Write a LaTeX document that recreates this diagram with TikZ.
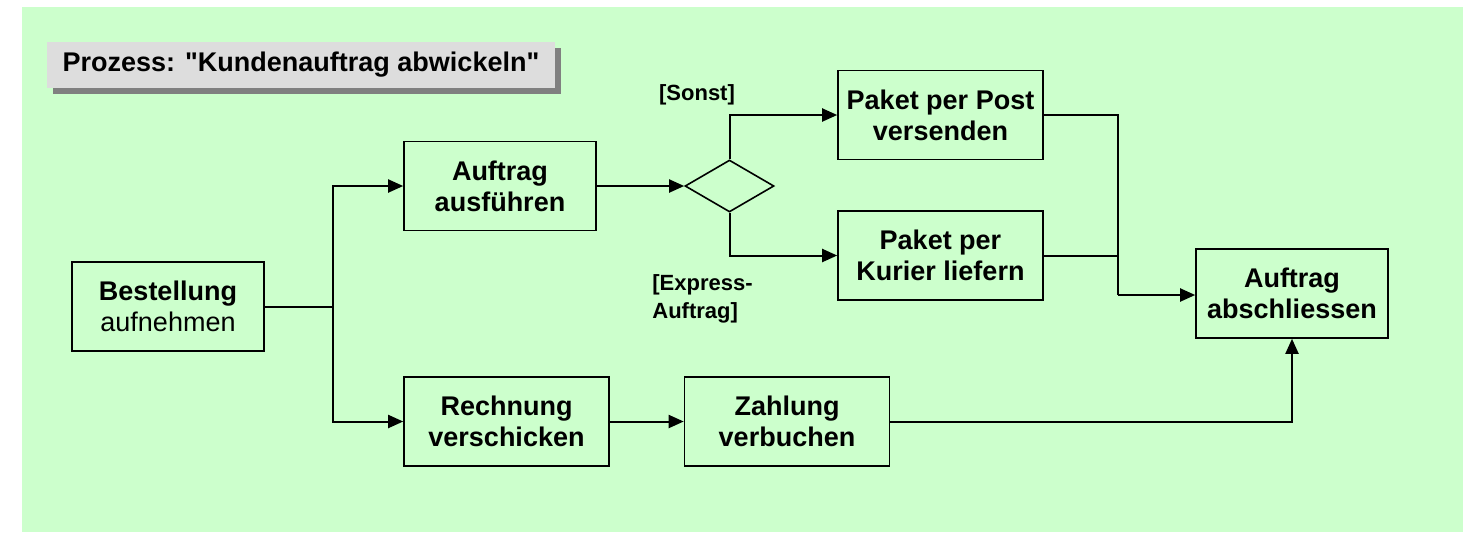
\documentclass[tikz,border=0pt]{standalone}
\usepackage{fontspec}
\setmainfont{Liberation Sans}
\newfontfamily\titelschrift{Liberation Sans}
\usetikzlibrary{arrows.meta,shapes.geometric,shadows}
\definecolor{hgruen}{HTML}{CCFFCC}
\definecolor{titelgrau}{HTML}{DDDDDD}
\definecolor{schatten}{HTML}{808080}
\tikzset{
  schritt/.style={draw, line width=0.8pt, minimum height=44.5pt, inner sep=1pt,
    align=center, font=\bfseries\fontsize{13.5}{15.5}\selectfont},
  pfeil/.style={line width=1pt, -{Triangle[length=7.5pt,width=6.5pt]}},
  linie/.style={line width=1pt},
  bedingung/.style={inner sep=0pt, align=left, font=\bfseries\fontsize{11}{14}\selectfont}
}
\begin{document}
\begin{tikzpicture}[x=0.5pt,y=-0.5pt]
\useasboundingbox (0,0) rectangle (1480,532);
% Hintergrund
\fill[hgruen] (22,7) rectangle (1463,532);

% Titel
\node[fill=titelgrau, minimum width=254pt, minimum height=23pt, inner sep=0pt,
  drop shadow={shadow xshift=3pt, shadow yshift=-3pt, fill=schatten, opacity=1},
  font=\titelschrift\bfseries\fontsize{13.5}{15.5}\selectfont] (titel) at (301,65)
  {Prozess: "Kundenauftrag abwickeln"};

% Schritte
\node[schritt, minimum width=96pt] (best) at (168,306.5)
  {Bestellung\\\mdseries aufnehmen};
\node[schritt, minimum width=96pt] (ausf) at (500,186) {Auftrag\\ausführen};
\node[draw, line width=0.8pt, diamond, inner sep=0pt, minimum width=44.5pt,
  minimum height=26pt] (raute) at (729.5,186) {};
\node[schritt, minimum width=102.5pt] (post) at (940.5,115) {Paket per Post\\versenden};
\node[schritt, minimum width=102.5pt] (kurier) at (940.5,255.5) {Paket per\\Kurier liefern};
\node[schritt, minimum width=96pt] (absch) at (1292,293.5) {Auftrag\\abschliessen};
\node[schritt, minimum width=102.5pt] (rechn) at (506.5,421.5) {Rechnung\\verschicken};
\node[schritt, minimum width=102.5pt] (zahl) at (787,421.5) {Zahlung\\verbuchen};

% Bedingungen
\node[bedingung] (sonst) at (697,95) {[Sonst]};
\node[bedingung, anchor=west] (express) at (652,299) {[Express-\\Auftrag]};

% Verzweigung und Zusammenfuehrung
\coordinate (gabel) at (333,306.5);
\coordinate (knoten) at (1118,295);

% Verbindungen
\draw[linie] (best) -- (gabel);
\draw[pfeil] (gabel) |- (ausf);
\draw[pfeil] (gabel) |- (rechn);
\draw[pfeil] (ausf) -- (raute);
\draw[pfeil] (raute.north) |- (post);
\draw[pfeil] (raute.south) |- (kurier);
\draw[linie] (post) -| (knoten);
\draw[linie] (kurier) -| (knoten);
\draw[pfeil] (knoten) -- (absch.west |- knoten);
\draw[pfeil] (rechn) -- (zahl);
\draw[pfeil] (zahl) -| (absch);
\end{tikzpicture}
\end{document}
